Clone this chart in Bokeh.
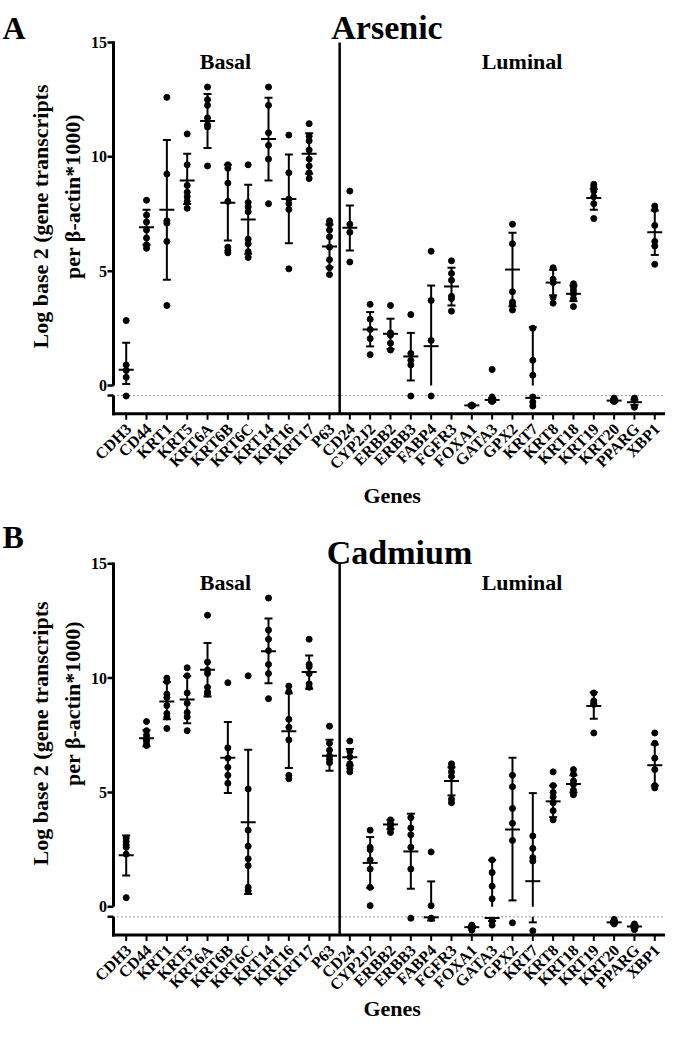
import math
from bokeh.plotting import figure
from bokeh.models import Range1d, Whisker, TeeHead, ColumnDataSource, Label
from bokeh.core.properties import value
from bokeh.layouts import column
from bokeh.embed import file_html
from bokeh.resources import INLINE

# ---------------- data ----------------
genes_basal = ["CDH3", "CD44", "KRT1", "KRT5", "KRT6A", "KRT6B", "KRT6C",
               "KRT14", "KRT16", "KRT17", "P63"]
genes_luminal = ["CD24", "CYP2J2", "ERBB2", "ERBB3", "FABP4", "FGFR3", "FOXA1",
                 "GATA3", "GPX2", "KRT7", "KRT8", "KRT18", "KRT19", "KRT20",
                 "PPARG", "XBP1"]
genes = genes_basal + genes_luminal
y_ticks = [0, 5, 10, 15]
y_tick_labels = ["0", "5", "10", "15"]
not_detected = -0.44   # dotted line / top of the lower axis segment

arsenic_points = [
    [2.84, 0.9, 0.66, 0.36, -0.46],
    [8.1, 7.45, 7.15, 6.8, 6.45, 6.15, 6.0],
    [12.6, 9.25, 7.2, 7.1, 6.3, 3.5],
    [11.0, 9.65, 8.75, 8.45, 8.25, 8.05, 7.75],
    [13.05, 12.5, 12.25, 11.7, 11.4, 11.3, 9.6],
    [9.65, 9.5, 8.85, 8.05, 6.05, 5.9, 5.8],
    [9.65, 8.0, 7.8, 7.6, 6.4, 6.2, 5.85, 5.6],
    [13.05, 12.25, 11.05, 10.5, 9.9, 7.95],
    [10.95, 9.3, 8.15, 7.95, 7.7, 5.1],
    [11.45, 10.9, 10.7, 10.3, 9.9, 9.6, 9.3, 9.05],
    [7.2, 7.05, 6.8, 6.5, 6.05, 5.5, 5.15, 4.85],
    [8.5, 7.05, 6.7, 5.4],
    [3.55, 2.9, 2.45, 2.05, 1.35],
    [3.5, 2.3, 2.2, 1.85, 1.55],
    [3.1, 1.4, 1.1, 0.9, -0.46],
    [5.87, 3.72, 1.97, -0.46],
    [5.45, 4.9, 4.6, 3.9, 3.8, 3.25],
    [-0.85, -0.88, -0.9],
    [0.7, -0.5, -0.62, -0.7],
    [7.05, 6.2, 4.1, 3.65, 3.55, 3.3],
    [2.5, 1.1, 0.45, -0.5, -0.72, -0.9],
    [5.15, 4.65, 4.5, 3.85, 3.6],
    [4.45, 4.3, 4.15, 4.0, 3.8, 3.45],
    [8.8, 8.7, 8.5, 8.25, 7.95, 7.3],
    [-0.55, -0.62, -0.7],
    [-0.55, -0.6, -0.95],
    [7.85, 7.7, 7.0, 6.3, 6.1, 5.3],
]
arsenic_mean = [0.69, 6.92, 7.68, 8.96, 11.56, 7.99, 7.26, 10.78, 8.16, 10.13, 6.08,
                6.9, 2.45, 2.26, 1.27, 1.72, 4.33, -0.87, -0.63, 5.07, -0.54, 4.5,
                4.01, 8.2, -0.66, -0.73, 6.7]
arsenic_err_hi = [1.87, 7.68, 10.74, 10.13, 12.75, 9.65, 8.78, 12.58, 10.1, 11.03, 7.04,
                  7.87, 3.21, 2.92, 2.3, 4.37, 5.15, -0.82, -0.55, 6.68, 2.55, 5.06,
                  4.37, 8.6, -0.6, -0.62, 7.65]
arsenic_err_lo = [0.07, 6.15, 4.62, 7.94, 10.39, 6.34, 5.76, 8.96, 6.22, 9.26, 5.17,
                  5.9, 1.71, 1.6, 0.22, -0.3, 3.5, -0.92, -0.72, 3.46, -0.3, 3.94,
                  3.69, 7.68, -0.72, -0.85, 5.71]

cadmium_points = [
    [3.0, 2.85, 2.7, 2.6, 2.3, 0.4],
    [8.1, 7.7, 7.5, 7.35, 7.25, 7.1, 7.05],
    [10.0, 9.85, 9.3, 9.15, 8.8, 8.45, 8.3, 7.8],
    [10.45, 10.1, 9.35, 8.9, 8.5, 8.3, 7.7],
    [12.75, 10.7, 10.35, 10.2, 9.6, 9.4, 9.3],
    [9.8, 6.95, 6.5, 6.1, 5.75, 5.4],
    [10.1, 5.15, 3.35, 2.65, 2.1, 1.8, 0.85, 0.7],
    [13.5, 12.1, 11.7, 11.2, 10.6, 10.2, 9.1],
    [9.65, 9.4, 8.2, 7.85, 7.3, 5.75, 5.6],
    [11.7, 10.6, 10.5, 10.2, 9.75, 9.6],
    [7.9, 7.15, 6.85, 6.6, 6.45, 6.3],
    [7.25, 6.8, 6.55, 6.25, 6.05, 5.9],
    [3.35, 2.6, 2.5, 2.05, 1.65, 0.85, 0.05],
    [3.8, 3.65, 3.55, 3.4, 3.25],
    [3.9, 3.45, 3.15, 2.6, 1.65, -0.5],
    [2.4, 0.05, -0.5, -0.5],
    [6.25, 6.1, 5.9, 5.7, 4.7, 4.55],
    [-0.8, -0.87, -0.95, -1.02],
    [2.05, 1.5, 0.9, 0.35, -0.6, -0.8],
    [5.75, 5.25, 4.3, 3.65, 2.9, -0.7],
    [3.1, 2.55, 2.15, 2.0, -1.05],
    [5.9, 5.3, 5.0, 4.8, 4.55, 4.2, 3.8],
    [6.0, 5.8, 5.5, 5.35, 5.1, 4.9],
    [9.35, 9.0, 8.9, 8.85, 7.6],
    [-0.55, -0.65, -0.75],
    [-0.75, -0.85, -1.0],
    [7.6, 7.15, 6.5, 6.0, 5.3, 5.2],
]
cadmium_mean = [2.25, 7.37, 8.98, 9.06, 10.37, 6.52, 3.7, 11.17, 7.68, 10.27, 6.61,
                6.54, 1.92, 3.6, 2.42, -0.46, 5.5, -0.89, -0.49, 3.38, 1.12, 4.61,
                5.37, 8.78, -0.68, -0.86, 6.19]
cadmium_err_hi = [3.12, 7.72, 9.83, 10.09, 11.53, 8.08, 6.87, 12.61, 9.34, 10.99, 7.3,
                  6.9, 3.05, 3.8, 4.07, 1.11, 6.1, -0.84, 2.04, 6.52, 4.97, 5.3,
                  5.75, 9.38, -0.62, -0.8, 7.1]
cadmium_err_lo = [1.37, 7.02, 8.2, 8.03, 9.2, 4.98, 0.56, 9.77, 6.07, 9.53, 5.95,
                  6.18, 0.83, 3.4, 0.79, -0.6, 4.87, -0.94, -0.62, 0.28, -0.68, 3.92,
                  5.0, 8.22, -0.74, -0.92, 5.3]

# ---------------- layout constants ----------------
FONT = "Liberation Serif"
W = 665                 # figure width
PX_X = 20.33            # pixels per gene
PX_Y = 22.87            # pixels per log2 unit
CAT0_PX = 125.7         # x pixel of the first gene
DX = 1.0 / PX_X
DY = 1.0 / PX_Y
XL = -CAT0_PX * DX
XR = XL + W * DX
AXIS_X = (113 - CAT0_PX) * DX      # y axis line
Y_AXIS_BOTTOM = -1.23              # x axis line
Y_TOP_LINE = 15.0


def px_x(px):
    return (px - CAT0_PX) * DX


def make_panel(letter, letter_x, letter_y, title, title_cx, title_y, points, means, lo, hi,
               height, zero_px, ylab1_y, ylab2_y, genes_y):
    y_top = zero_px * DY
    y_bot = y_top - height * DY
    p = figure(width=W, height=height, x_range=Range1d(XL, XR),
               y_range=Range1d(y_bot, y_top), output_backend="svg",
               toolbar_location=None, x_axis_location=None, y_axis_location=None,
               min_border=0, outline_line_color=None, background_fill_color="white")
    p.grid.visible = False

    xs, ys = [], []
    for i, pts in enumerate(points):
        xs += [i] * len(pts)
        ys += pts
    idx = list(range(len(genes)))

    # error bars
    wsrc = ColumnDataSource(dict(x=idx, lo=lo, hi=hi))
    p.add_layout(Whisker(source=wsrc, base="x", upper="hi", lower="lo", dimension="height",
                         line_width=2, line_color="black", level="underlay",
                         upper_head=TeeHead(size=8, line_width=2, line_color="black"),
                         lower_head=TeeHead(size=8, line_width=2, line_color="black")))

    # axis-break gap
    p.quad(left=[AXIS_X], right=[XR], bottom=[not_detected], top=[0],
           fill_color="white", line_color=None)
    # dotted line at the break
    p.segment(x0=[AXIS_X], y0=[not_detected], x1=[XR], y1=[not_detected],
              line_color="#333333", line_width=1, line_dash="1 3")
    # Basal / Luminal separator
    sep = len(genes_basal) - 0.5
    p.segment(x0=[sep], y0=[Y_AXIS_BOTTOM], x1=[sep], y1=[Y_TOP_LINE],
              line_color="black", line_width=2.5)

    # ---- y axis (broken) ----
    p.segment(x0=[AXIS_X, AXIS_X], y0=[0, Y_AXIS_BOTTOM - 1.5 * DY],
              x1=[AXIS_X, AXIS_X], y1=[Y_TOP_LINE + 1.2 * DY, not_detected],
              line_color="black", line_width=3)
    tick_y = y_ticks + [not_detected]
    p.segment(x0=[AXIS_X - 6 * DX] * len(tick_y), y0=tick_y,
              x1=[AXIS_X] * len(tick_y), y1=tick_y, line_color="black", line_width=2.5)
    p.text(x=[AXIS_X - 6.5 * DX] * len(y_ticks), y=y_ticks, text=y_tick_labels,
           text_font=value(FONT), text_font_style="bold", text_font_size=value("16px"),
           text_align="right", text_baseline="middle", text_color="black")

    # ---- x axis ----
    p.segment(x0=[AXIS_X - 1.5 * DX], y0=[Y_AXIS_BOTTOM], x1=[XR], y1=[Y_AXIS_BOTTOM],
              line_color="black", line_width=3)
    p.segment(x0=idx, y0=[Y_AXIS_BOTTOM] * len(idx), x1=idx,
              y1=[Y_AXIS_BOTTOM - 6 * DY] * len(idx), line_color="black", line_width=2)
    p.text(x=[i + 2.3 * DX for i in idx], y=[Y_AXIS_BOTTOM - 12.5 * DY] * len(idx),
           text=genes, angle=math.pi / 4, text_font=value(FONT), text_font_style="bold",
           text_font_size=value("16px"), text_align="right", text_baseline="middle",
           text_color="black")

    # ---- data marks ----
    p.scatter(xs, ys, size=6, color="black")
    p.scatter(idx, means, marker="dash", size=15, line_width=2, line_color="black")

    def lab(text, x, y, size, align="center", angle=0.0, baseline="alphabetic"):
        p.add_layout(Label(x=x, y=y, text=text, text_font=FONT, text_font_style="bold",
                           text_font_size=size, text_align=align, text_baseline=baseline,
                           angle=angle, text_color="black"))

    lab(letter, px_x(letter_x), letter_y, "32px", align="left")
    lab(title, px_x(title_cx), title_y, "34px")
    lab("Basal", px_x(225), 14.18, "22px")
    lab("Luminal", px_x(521.5), 14.18, "22px")
    lab("Log base 2 (gene transcripts", px_x(40), ylab1_y, "22px",
        angle=math.pi / 2, baseline="middle")
    lab("per \u03b2-actin*1000)", px_x(72), ylab2_y, "22px",
        angle=math.pi / 2, baseline="middle")
    lab("Genes", px_x(391.7), genes_y, "22px")
    return p


# panel A: rows 0..516, zero line at row 385
pa = make_panel("A", 2, 15.65, "Arsenic", 386.5, 15.65, arsenic_points, arsenic_mean,
                arsenic_err_lo, arsenic_err_hi, 516, 385, 7.39, 8.26, -4.81)
# panel B: rows 516..1021, zero line at row 906 (local 390)
pb = make_panel("B", 2, 16.15, "Cadmium", 399, 15.49, cadmium_points, cadmium_mean,
                cadmium_err_lo, cadmium_err_hi, 505, 390.3, 7.58, 8.89, -4.45)

layout = column(pa, pb, spacing=0)
open("out.html", "w").write(file_html(layout, INLINE))
